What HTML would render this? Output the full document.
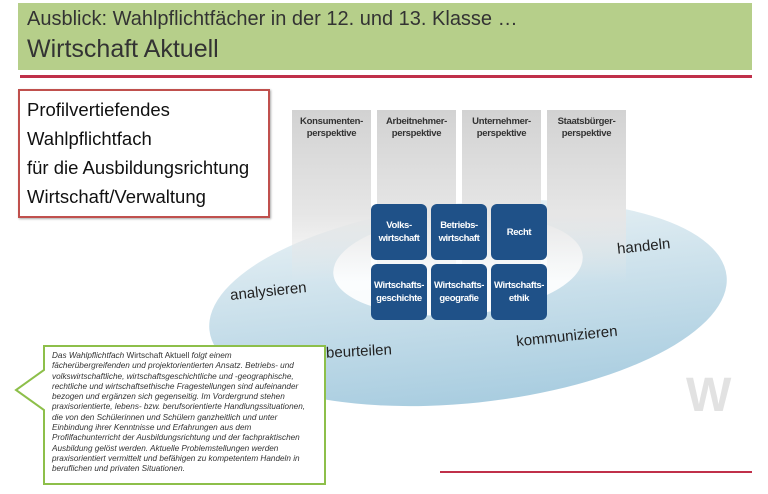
<!DOCTYPE html>
<html><head><meta charset="utf-8"><style>
body{margin:0;width:768px;height:494px;overflow:hidden;background:#fff;font-family:"Liberation Sans",sans-serif;position:relative}
.a{position:absolute}
.col{position:absolute;top:110px;width:79px;height:172px;background:linear-gradient(#d2d2d2,#e6e6e6 60%,rgba(235,235,235,0))}
.col div{font-size:9.5px;font-weight:bold;color:#333;text-align:center;margin-top:6px;line-height:12px;letter-spacing:-0.3px}
.bx{position:absolute;width:56px;height:56px;background:#1f5188;border-radius:6px;color:#fff;font-size:9.5px;letter-spacing:-0.4px;font-weight:bold;display:flex;align-items:center;justify-content:center;text-align:center;line-height:13px;white-space:nowrap}
.lbl{position:absolute;font-size:15px;color:#222;transform:rotate(-6deg)}
</style></head><body>
<div class="a" style="left:18px;top:3px;width:734px;height:67px;background:#b6cf8a"></div>
<div class="a" style="left:27px;top:8px;font-size:20px;color:#333">Ausblick: Wahlpflichtfächer in der 12. und 13. Klasse …</div>
<div class="a" style="left:27px;top:35px;font-size:25px;color:#333">Wirtschaft Aktuell</div>
<div class="a" style="left:20px;top:75px;width:732px;height:3px;background:#c0304a"></div>
<div class="a" style="left:18px;top:89px;width:248px;height:125px;border:2px solid #c0504d;box-shadow:1px 1px 2px #aaa"></div>
<div class="a" style="left:27px;top:95px;font-size:18.5px;line-height:29px;color:#111">Profilvertiefendes<br>Wahlpflichtfach<br>für die Ausbildungsrichtung<br>Wirtschaft/Verwaltung</div>
<svg class="a" style="left:0;top:0" width="768" height="494">
<defs><linearGradient id="g" x1="0" y1="0" x2="0" y2="1"><stop offset="0" stop-color="#e6f0f4"/><stop offset="1" stop-color="#a9cde0"/></linearGradient></defs>
<ellipse cx="468" cy="303" rx="260" ry="100" transform="rotate(-6 468 303)" fill="url(#g)"/>
<ellipse cx="458" cy="265" rx="125" ry="50" transform="rotate(-4 458 265)" fill="#fff" opacity="0.9"/>
</svg>
<div class="col" style="left:292px"><div>Konsumenten-<br>perspektive</div></div>
<div class="col" style="left:377px"><div>Arbeitnehmer-<br>perspektive</div></div>
<div class="col" style="left:462px"><div>Unternehmer-<br>perspektive</div></div>
<div class="col" style="left:547px"><div>Staatsbürger-<br>perspektive</div></div>
<div class="bx" style="left:371px;top:204px">Volks-<br>wirtschaft</div>
<div class="bx" style="left:431px;top:204px">Betriebs-<br>wirtschaft</div>
<div class="bx" style="left:491px;top:204px">Recht</div>
<div class="bx" style="left:371px;top:264px">Wirtschafts-<br>geschichte</div>
<div class="bx" style="left:431px;top:264px">Wirtschafts-<br>geografie</div>
<div class="bx" style="left:491px;top:264px">Wirtschafts-<br>ethik</div>
<div class="lbl" style="left:230px;top:283px">analysieren</div>
<div class="lbl" style="left:326px;top:343px;transform:rotate(-3deg)">beurteilen</div>
<div class="lbl" style="left:516px;top:328px">kommunizieren</div>
<div class="lbl" style="left:617px;top:238px">handeln</div>
<div class="a" style="left:686px;top:368px;font-size:48px;font-weight:bold;color:#e2e2e2">W</div>
<div class="a" style="left:440px;top:471px;width:312px;height:2px;background:#c0304a"></div>
<svg class="a" style="left:0;top:0" width="768" height="494">
<polygon points="44,346 325,346 325,484 44,484 44,410 16,390 44,370" fill="#fff" stroke="#8dbf4a" stroke-width="2"/>
</svg>
<div class="a" style="left:52px;top:351px;width:272px;font-size:8.2px;line-height:10.3px;color:#333;font-style:italic;white-space:nowrap">Das Wahlpflichtfach <span style="font-style:normal">Wirtschaft Aktuell</span> folgt einem<br>fächerübergreifenden und projektorientierten Ansatz. Betriebs- und<br>volkswirtschaftliche, wirtschaftsgeschichtliche und -geographische,<br>rechtliche und wirtschaftsethische Fragestellungen sind aufeinander<br>bezogen und ergänzen sich gegenseitig. Im Vordergrund stehen<br>praxisorientierte, lebens- bzw. berufsorientierte Handlungssituationen,<br>die von den Schülerinnen und Schülern ganzheitlich und unter<br>Einbindung ihrer Kenntnisse und Erfahrungen aus dem<br>Profilfachunterricht der Ausbildungsrichtung und der fachpraktischen<br>Ausbildung gelöst werden. Aktuelle Problemstellungen werden<br>praxisorientiert vermittelt und befähigen zu kompetentem Handeln in<br>beruflichen und privaten Situationen.</div>
</body></html>
